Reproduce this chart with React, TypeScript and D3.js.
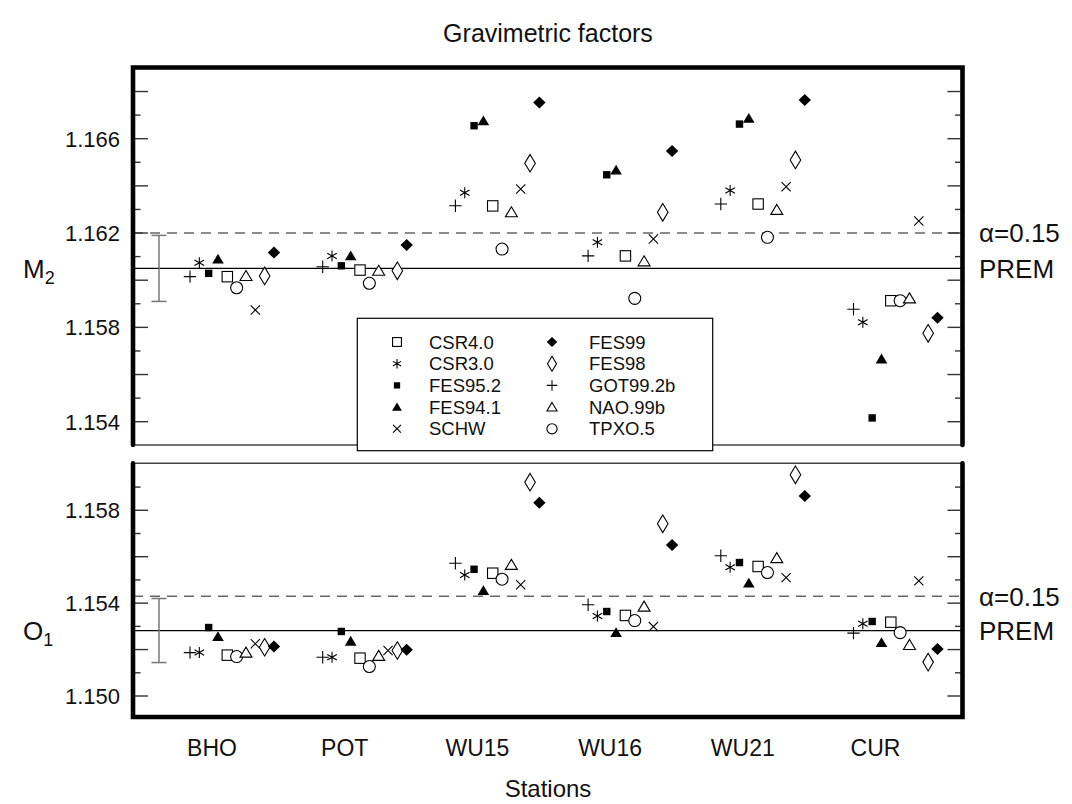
import React from "react";
import * as d3 from "d3";

// ---------- DATA ----------
const stations = ["BHO", "POT", "WU15", "WU16", "WU21", "CUR"];
// plotting order inside each station group
const models = ["GOT99.2b", "CSR3.0", "FES95.2", "FES94.1", "CSR4.0", "TPXO.5", "NAO.99b", "SCHW", "FES98", "FES99"];

// M2 gravimetric factors (BHO, POT, WU15, WU16, WU21, CUR)
const m2GOT = [1.16015, 1.16057, 1.16316, 1.16103, 1.16323, 1.15877];
const m2CSR3 = [1.16074, 1.16103, 1.16371, 1.16161, 1.1638, 1.15822];
const m2FES952 = [1.16029, 1.16061, 1.16655, 1.16447, 1.16662, 1.15416];
const m2FES941 = [1.16089, 1.16103, 1.16676, 1.16467, 1.16686, 1.15666];
const m2CSR4 = [1.16015, 1.16043, 1.16315, 1.16103, 1.16323, 1.15913];
const m2TPXO = [1.15968, 1.15987, 1.16132, 1.15923, 1.16182, 1.15913];
const m2NAO = [1.16018, 1.1604, 1.16288, 1.1608, 1.16298, 1.15923];
const m2SCHW = [1.15874, null, 1.16387, 1.16175, 1.16396, 1.16251];
const m2FES98 = [1.16018, 1.1604, 1.16496, 1.16288, 1.1651, 1.15775];
const m2FES99 = [1.16117, 1.16149, 1.16754, 1.16548, 1.16764, 1.15841];

// O1 gravimetric factors
const o1GOT = [1.15187, 1.15167, 1.15572, 1.15393, 1.15604, 1.15271];
const o1CSR3 = [1.15187, 1.15167, 1.15521, 1.15345, 1.15555, 1.15311];
const o1FES952 = [1.15295, 1.15278, 1.15546, 1.15364, 1.15575, 1.15321];
const o1FES941 = [1.15256, 1.15236, 1.15454, 1.15273, 1.15486, 1.1523];
const o1CSR4 = [1.15176, 1.15163, 1.15529, 1.15347, 1.15558, 1.15318];
const o1TPXO = [1.1517, 1.15127, 1.15503, 1.15325, 1.15532, 1.15273];
const o1NAO = [1.15187, 1.15173, 1.15565, 1.15385, 1.15594, 1.1522];
const o1SCHW = [1.15225, 1.15196, 1.15479, 1.15299, 1.1551, 1.15496];
const o1FES98 = [1.1521, 1.15196, 1.15921, 1.15742, 1.15953, 1.15146];
const o1FES99 = [1.15213, 1.15199, 1.15833, 1.15651, 1.15862, 1.15202];

const m2Series = [m2GOT, m2CSR3, m2FES952, m2FES941, m2CSR4, m2TPXO, m2NAO, m2SCHW, m2FES98, m2FES99];
const o1Series = [o1GOT, o1CSR3, o1FES952, o1FES941, o1CSR4, o1TPXO, o1NAO, o1SCHW, o1FES98, o1FES99];

const m2Prem = 1.1605;
const m2Alpha = 1.162;
const m2Err = 0.0014;
const o1Prem = 1.15282;
const o1Alpha = 1.1543;
const o1Err = 0.00138;

const m2TickLabels = [1.154, 1.158, 1.162, 1.166];
const o1TickLabels = [1.15, 1.154, 1.158];

const legendCol1 = ["CSR4.0", "CSR3.0", "FES95.2", "FES94.1", "SCHW"];
const legendCol2 = ["FES99", "FES98", "GOT99.2b", "NAO.99b", "TPXO.5"];

// ---------- SYMBOLS ----------
const symbolOf: Record<string, string> = {
  "CSR4.0": "squareOpen",
  "CSR3.0": "asterisk",
  "FES95.2": "squareFill",
  "FES94.1": "triFill",
  SCHW: "cross",
  FES99: "diamondFill",
  FES98: "diamondOpen",
  "GOT99.2b": "plus",
  "NAO.99b": "triOpen",
  "TPXO.5": "circle",
};

function Sym({ type, x, y, s = 1 }: { type: string; x: number; y: number; s?: number }) {
  const sw = 1.1;
  switch (type) {
    case "squareOpen": {
      const h = 5.2 * s;
      return <rect x={x - h} y={y - h} width={2 * h} height={2 * h} fill="white" stroke="black" strokeWidth={sw} />;
    }
    case "squareFill": {
      const h = 3.7 * s;
      return <rect x={x - h} y={y - h} width={2 * h} height={2 * h} fill="black" />;
    }
    case "asterisk": {
      const r = 5.5 * s;
      const dx = r * Math.cos(Math.PI / 6);
      const dy = r * Math.sin(Math.PI / 6);
      return (
        <path
          d={`M${x},${y - r}L${x},${y + r}M${x - dx},${y - dy}L${x + dx},${y + dy}M${x - dx},${y + dy}L${x + dx},${y - dy}`}
          stroke="black"
          strokeWidth={sw}
          fill="none"
        />
      );
    }
    case "triFill": {
      const w = 5.8 * s;
      const h = 9.8 * s;
      return <path d={`M${x},${y - h * 0.55}L${x + w},${y + h * 0.45}L${x - w},${y + h * 0.45}Z`} fill="black" />;
    }
    case "triOpen": {
      const w = 6 * s;
      const h = 10 * s;
      return <path d={`M${x},${y - h * 0.55}L${x + w},${y + h * 0.45}L${x - w},${y + h * 0.45}Z`} fill="white" stroke="black" strokeWidth={sw} />;
    }
    case "cross": {
      const r = 4.6 * s;
      return <path d={`M${x - r},${y - r}L${x + r},${y + r}M${x - r},${y + r}L${x + r},${y - r}`} stroke="black" strokeWidth={sw} />;
    }
    case "plus": {
      const r = 6.2 * s;
      return <path d={`M${x - r},${y}L${x + r},${y}M${x},${y - r}L${x},${y + r}`} stroke="black" strokeWidth={sw} />;
    }
    case "diamondFill": {
      const w = 6.2 * s;
      const h = 6 * s;
      return <path d={`M${x},${y - h}L${x + w},${y}L${x},${y + h}L${x - w},${y}Z`} fill="black" />;
    }
    case "diamondOpen": {
      const w = 5.3 * s;
      const h = 8.8 * s;
      return <path d={`M${x},${y - h}L${x + w},${y}L${x},${y + h}L${x - w},${y}Z`} fill="white" stroke="black" strokeWidth={sw} />;
    }
    case "circle":
    default:
      return <circle cx={x} cy={y} r={6 * s} fill="white" stroke="black" strokeWidth={sw} />;
  }
}

// ---------- LAYOUT ----------
const W = 1072;
const H = 804;
const X0 = 133;
const X1 = 962.5;
const FONT = "'Liberation Sans', Arial, Helvetica, sans-serif";

const xScale = d3.scaleLinear().domain([0, 5]).range([212, 875.5]);
const dodgeStart = -22;
const dodgeStep = 9.33;

const yTop = d3.scaleLinear().domain([1.154, 1.166]).range([421.7, 138.7]);
const yBot = d3.scaleLinear().domain([1.15, 1.158]).range([696, 510.3]);

type PanelProps = {
  y: d3.ScaleLinear<number, number>;
  top: number;
  bottom: number;
  thickTop: boolean;
  series: (number | null)[][];
  prem: number;
  alpha: number;
  err: number;
  tickMin: number;
  tickMax: number;
  tickLabels: number[];
  name: string;
  sub: string;
};

function Panel(p: PanelProps) {
  const ticks = d3.range(Math.round(p.tickMin * 1000), Math.round(p.tickMax * 1000) + 1).map((v) => v / 1000);
  const frame = p.thickTop
    ? `M${X0},${p.bottom}L${X0},${p.top}L${X1},${p.top}L${X1},${p.bottom}`
    : `M${X0},${p.top}L${X0},${p.bottom}L${X1},${p.bottom}L${X1},${p.top}`;
  const thinY = p.thickTop ? p.bottom : p.top;
  const yp = p.y(p.prem);
  const ya = p.y(p.alpha);
  return (
    <g>
      {/* reference lines */}
      <line x1={X0} x2={X1} y1={ya} y2={ya} stroke="#666" strokeWidth={1.5} strokeDasharray="10,7" />
      <line x1={X0} x2={X1} y1={yp} y2={yp} stroke="black" strokeWidth={1.2} />
      {/* error bar */}
      <g stroke="#777" strokeWidth={1.5}>
        <line x1={159} x2={159} y1={p.y(p.prem + p.err)} y2={p.y(p.prem - p.err)} />
        <line x1={151.5} x2={166.5} y1={p.y(p.prem + p.err)} y2={p.y(p.prem + p.err)} />
        <line x1={151.5} x2={166.5} y1={p.y(p.prem - p.err)} y2={p.y(p.prem - p.err)} />
      </g>
      {/* ticks */}
      {ticks.map((t, i) => {
        const yy = p.y(t);
        const long = Math.round(t * 1000) % 2 === 0;
        const len = long ? 13 : 5.5;
        return (
          <g key={i} stroke="#333" strokeWidth={1.4}>
            <line x1={X0 + 2} x2={X0 + 2 + len} y1={yy} y2={yy} />
            <line x1={X1 - 2} x2={X1 - 2 - len} y1={yy} y2={yy} />
          </g>
        );
      })}
      {p.tickLabels.map((t, i) => (
        <text key={i} x={120} y={p.y(t)} dy="0.36em" textAnchor="end" fontSize={22} fontFamily={FONT} fill="#111">
          {t.toFixed(3)}
        </text>
      ))}
      {/* points */}
      {p.series.map((vals, k) =>
        vals.map((v, i) =>
          v == null ? null : (
            <Sym key={`${k}-${i}`} type={symbolOf[models[k]]} x={xScale(i) + dodgeStart + k * dodgeStep} y={p.y(v)} />
          )
        )
      )}
      {/* frame */}
      <line x1={X0} x2={X1} y1={thinY} y2={thinY} stroke="#444" strokeWidth={1.5} />
      <path d={frame} fill="none" stroke="black" strokeWidth={4.6} strokeLinecap="round" strokeLinejoin="miter" />
      {/* labels */}
      <text x={23} y={yp} dy="0.36em" fontSize={26} fontFamily={FONT} fill="#111">
        {p.name}
        <tspan fontSize={18} dy="6">
          {p.sub}
        </tspan>
      </text>
      <text x={979} y={ya} dy="0.36em" fontSize={26} fontFamily={FONT} fill="#111">
        α=0.15
      </text>
      <text x={979} y={yp} dy="0.36em" fontSize={26} fontFamily={FONT} fill="#111">
        PREM
      </text>
    </g>
  );
}

function Legend() {
  const lx = 357.3;
  const ly = 318.3;
  const rowY = (i: number) => 342 + i * 21.7;
  return (
    <g>
      <rect x={lx} y={ly} width={355.4} height={132.4} fill="white" stroke="black" strokeWidth={1.2} />
      {legendCol1.map((m, i) => (
        <g key={m}>
          <Sym type={symbolOf[m]} x={397} y={rowY(i)} s={0.85} />
          <text x={429} y={rowY(i)} dy="0.36em" fontSize={18.5} fontFamily={FONT} fill="#111">
            {m}
          </text>
        </g>
      ))}
      {legendCol2.map((m, i) => (
        <g key={m}>
          <Sym type={symbolOf[m]} x={552} y={rowY(i)} s={0.85} />
          <text x={589} y={rowY(i)} dy="0.36em" fontSize={18.5} fontFamily={FONT} fill="#111">
            {m}
          </text>
        </g>
      ))}
    </g>
  );
}

export default function App() {
  return (
    <svg width={W} height={H} style={{ position: "absolute", left: 0, top: 0, background: "white" }}>
      <rect x={0} y={0} width={W} height={H} fill="white" />
      <text x={548} y={33} dy="0.36em" textAnchor="middle" fontSize={25} fontFamily={FONT} fill="#111">
        Gravimetric factors
      </text>
      <Panel
        y={yTop}
        top={67.5}
        bottom={445}
        thickTop={true}
        series={m2Series}
        prem={m2Prem}
        alpha={m2Alpha}
        err={m2Err}
        tickMin={1.154}
        tickMax={1.168}
        tickLabels={m2TickLabels}
        name="M"
        sub="2"
      />
      <Panel
        y={yBot}
        top={463.3}
        bottom={717}
        thickTop={false}
        series={o1Series}
        prem={o1Prem}
        alpha={o1Alpha}
        err={o1Err}
        tickMin={1.15}
        tickMax={1.159}
        tickLabels={o1TickLabels}
        name="O"
        sub="1"
      />
      <Legend />
      {stations.map((s, i) => (
        <text key={s} x={xScale(i)} y={748} dy="0.36em" textAnchor="middle" fontSize={23} fontFamily={FONT} fill="#111">
          {s}
        </text>
      ))}
      <text x={548} y={788} dy="0.36em" textAnchor="middle" fontSize={24} fontFamily={FONT} fill="#111">
        Stations
      </text>
    </svg>
  );
}
